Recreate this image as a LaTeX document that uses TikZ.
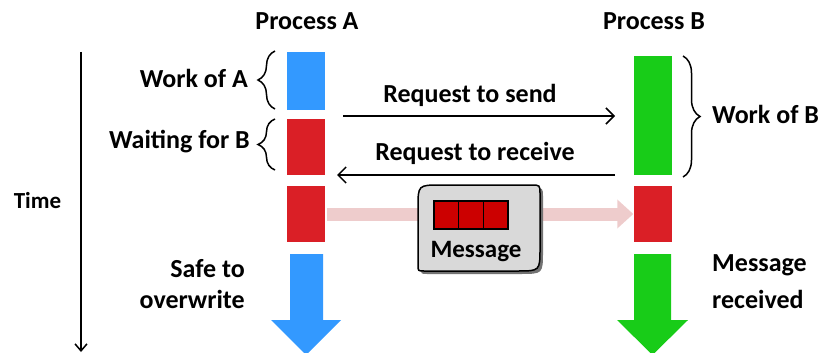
\documentclass[tikz,border=0pt]{standalone}
\usepackage{fontspec}
\setmainfont{Carlito}
\usepackage{tikz}
\usetikzlibrary{decorations.pathreplacing,arrows.meta,arrows}

\definecolor{workA}{RGB}{51,153,255}
\definecolor{waitR}{RGB}{218,31,38}
\definecolor{workB}{RGB}{24,204,24}
\definecolor{flow}{RGB}{238,204,204}
\definecolor{boxgray}{RGB}{217,217,217}
\definecolor{msgred}{RGB}{204,0,0}

\tikzset{
bar/.style={rectangle,inner sep=0pt,minimum width=38pt},
lbl/.style={font=\fontsize{26}{31}\selectfont\bfseries,inner sep=0pt},
brc/.style={decorate,decoration={brace,amplitude=17pt},line width=1.5pt},
req/.style={-{Straight Barb[length=8pt,width=16pt]},line width=1.5pt},
cell/.style={rectangle,draw=black,line width=1.5pt,fill=msgred,minimum width=24.7pt,minimum height=28pt,inner sep=0pt}
}

\begin{document}
\begin{tikzpicture}[x=1pt,y=-1pt]
\useasboundingbox (0,0) rectangle (824,353);

\node[bar,fill=workA,minimum height=58pt] (A1) at (306,81) {};
\node[bar,fill=waitR,minimum height=56pt] (A2) at (306,147) {};
\node[bar,fill=waitR,minimum height=56pt] (A3) at (306,214) {};
\node[bar,fill=workB,minimum height=119pt] (B1) at (652.5,115.5) {};
\node[bar,fill=waitR,minimum height=56pt] (B2) at (652.5,214) {};

\fill[workA] (290,254) -- (323,254) -- (323,320) -- (341,320) -- (306,355) -- (271,320) -- (290,320) -- cycle;
\fill[workB] (634,254) -- (671,254) -- (671,320) -- (688,320) -- (652.5,355) -- (617,320) -- (634,320) -- cycle;

\path[-{Triangle[length=16pt,width=28pt]},line width=13pt,flow,shorten <=2pt] (A3) edge [] node[]{} (B2);

\draw[line width=1.5pt,preaction={fill=black!55,transform canvas={shift={(3pt,-3pt)}}},fill=boxgray]
  (418,208) .. controls (418,185) .. (441,185) -- (531,185) .. controls (540,185) .. (540,194)
  -- (540,248) .. controls (540,271) .. (517,271) -- (424,271) .. controls (418,271) .. (418,265) -- cycle;
\node[cell] (M1) at (446.3,215) {};
\node[cell] (M2) at (471,215) {};
\node[cell] (M3) at (495.7,215) {};
\node[lbl,font=\fontsize{25}{30}\selectfont\bfseries,anchor=base] (Msg) at (476,257) {Message};

\coordinate (S1) at (343,116);
\coordinate (S2) at (615,116);
\coordinate (R1) at (615,175);
\coordinate (R2) at (337,175);
\path[req] (S1) edge [] node[]{} (S2);
\path[req] (R1) edge [] node[]{} (R2);

\coordinate (T1) at (81,52);
\coordinate (T2) at (81,352);
\path[-{Straight Barb[length=7pt,width=12pt]},line width=1.5pt] (T1) edge [] node[]{} (T2);

\draw[brc] (275,109) -- (275,51);
\draw[brc] (275,170) -- (275,119);
\draw[brc] (683,56) -- (683,177);

\node[lbl,anchor=base] (PA) at (307,30) {Process A};
\node[lbl,anchor=base] (PB) at (654,30) {Process B};
\node[lbl,anchor=base east] (LA1) at (248,87) {Work of A};
\node[lbl,anchor=base east] (LA2) at (250,148) {Waiting for B};
\node[lbl,anchor=base west] (LB1) at (712,123) {Work of B};
\node[lbl,anchor=base] (LS) at (470,102) {Request to send};
\node[lbl,anchor=base] (LR) at (475,160) {Request to receive};
\node[lbl,font=\fontsize{23}{28}\selectfont\bfseries,anchor=base] (LT) at (37.5,208) {Time};
\node[lbl,anchor=base east] (LA3) at (245,277) {Safe to};
\node[lbl,anchor=base east] (LA4) at (245,308) {overwrite};
\node[lbl,anchor=base west] (LB2) at (712,271) {Message};
\node[lbl,anchor=base west] (LB3) at (712,308) {received};
\end{tikzpicture}
\end{document}
